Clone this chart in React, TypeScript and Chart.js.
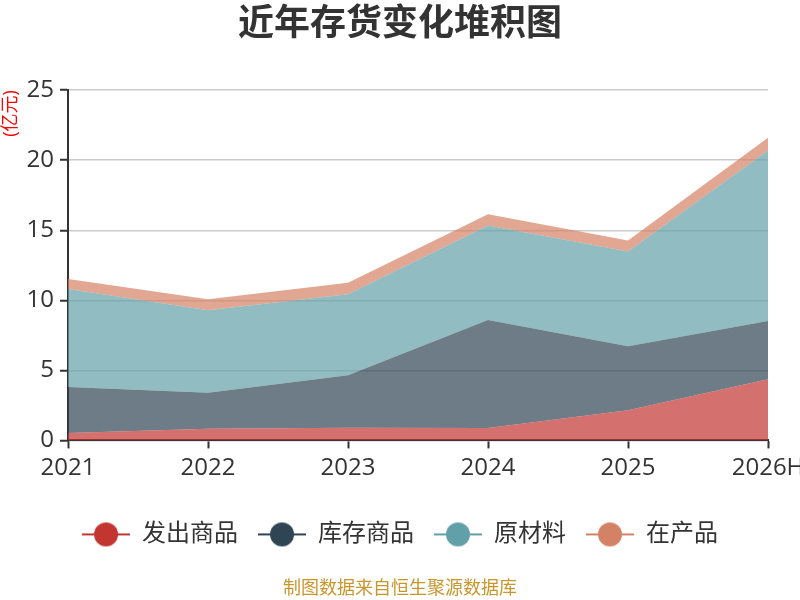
import { useEffect, useRef } from 'react';
import { Chart, registerables } from 'chart.js';
import type { ChartConfiguration } from 'chart.js';

Chart.register(...registerables);

const years = ['2021', '2022', '2023', '2024', '2025', '2026H'];
const shippedGoods = [0.52, 0.83, 0.9, 0.88, 2.15, 4.37];
const stockGoods = [3.3, 2.58, 3.75, 7.71, 4.58, 4.15];
const rawMaterials = [6.98, 5.89, 5.78, 6.75, 6.75, 12.17];
const workInProgress = [0.72, 0.77, 0.83, 0.81, 0.79, 0.91];
const seriesNames = ['发出商品', '库存商品', '原材料', '在产品'];
const colors = ['#c23531', '#2f4554', '#61a0a8', '#d48265'];
const fills = ['rgba(194,53,49,0.7)', 'rgba(47,69,84,0.7)', 'rgba(97,160,168,0.7)', 'rgba(212,130,101,0.7)'];

const FONT = '"Open Sans", "Noto Sans CJK SC", sans-serif';

// line + dot legend marker
const makeIcon = (color: string) => {
  const c = document.createElement('canvas');
  c.width = 48;
  c.height = 26;
  const ctx = c.getContext('2d')!;
  ctx.strokeStyle = color;
  ctx.lineWidth = 2;
  ctx.beginPath();
  ctx.moveTo(0, 13);
  ctx.lineTo(48, 13);
  ctx.stroke();
  ctx.fillStyle = color;
  ctx.beginPath();
  ctx.arc(24, 13, 12, 0, Math.PI * 2);
  ctx.fill();
  return c;
};

const App = () => {
  const canvasRef = useRef<HTMLCanvasElement>(null);

  useEffect(() => {
    if (!canvasRef.current) return;
    const icons = colors.map(makeIcon);
    const values = [shippedGoods, stockGoods, rawMaterials, workInProgress];

    const config: ChartConfiguration<'line'> = {
      type: 'line',
      data: {
        labels: years,
        datasets: seriesNames.map((name, i) => ({
          label: name,
          data: values[i],
          borderColor: colors[i],
          backgroundColor: fills[i],
          borderWidth: 0,
          pointRadius: 0,
          pointHoverRadius: 0,
          tension: 0,
          fill: i === 0 ? 'origin' : '-1',
        })),
      },
      options: {
        responsive: false,
        animation: false,
        layout: { padding: 0 },
        scales: {
          x: {
            offset: false,
            border: { color: '#333', width: 2 },
            grid: { drawOnChartArea: false, drawTicks: true, tickLength: 8, tickColor: '#333', tickWidth: 2 },
            ticks: { color: '#333', font: { size: 24, family: FONT }, padding: 5, maxRotation: 0 },
            afterFit: (scale) => {
              scale.height = 62;
              scale.paddingRight = 32;
            },
          },
          y: {
            stacked: true,
            min: 0,
            max: 25,
            border: { color: '#333', width: 2 },
            grid: { color: '#ccc', lineWidth: 1.5, tickLength: 8, tickColor: '#333', tickWidth: 2 },
            ticks: { stepSize: 5, color: '#333', font: { size: 24, family: FONT }, padding: 6 },
            title: {
              display: true,
              text: '(亿元)',
              align: 'end',
              color: 'red',
              font: { size: 18, family: FONT },
              padding: 0,
            },
            afterFit: (scale) => {
              scale.width = 68;
            },
          },
        },
        plugins: {
          title: {
            display: true,
            text: '近年存货变化堆积图',
            color: '#333',
            font: { size: 36, weight: 'bold', family: FONT },
            padding: { top: 3, bottom: 44 },
          },
          subtitle: {
            display: true,
            position: 'bottom',
            text: '制图数据来自恒生聚源数据库',
            color: '#c8962c',
            font: { size: 18, family: FONT },
            padding: { top: 22, bottom: 0 },
          },
          legend: {
            position: 'bottom',
            labels: {
              usePointStyle: true,
              pointStyleWidth: 48,
              color: '#333',
              padding: 20,
              font: { size: 24, family: FONT },
              generateLabels: (chart) =>
                Chart.defaults.plugins.legend.labels
                  .generateLabels(chart)
                  .map((item, i) => ({ ...item, pointStyle: icons[i] })),
            },
          },
          tooltip: { enabled: false },
        },
      },
    };

    const chart = new Chart(canvasRef.current, config);
    return () => {
      chart.destroy();
    };
  }, []);

  return (
    <div style={{ position: 'absolute', left: 0, top: 0, width: 800, height: 600 }}>
      <canvas ref={canvasRef} width={800} height={600} />
    </div>
  );
};

export default App;
